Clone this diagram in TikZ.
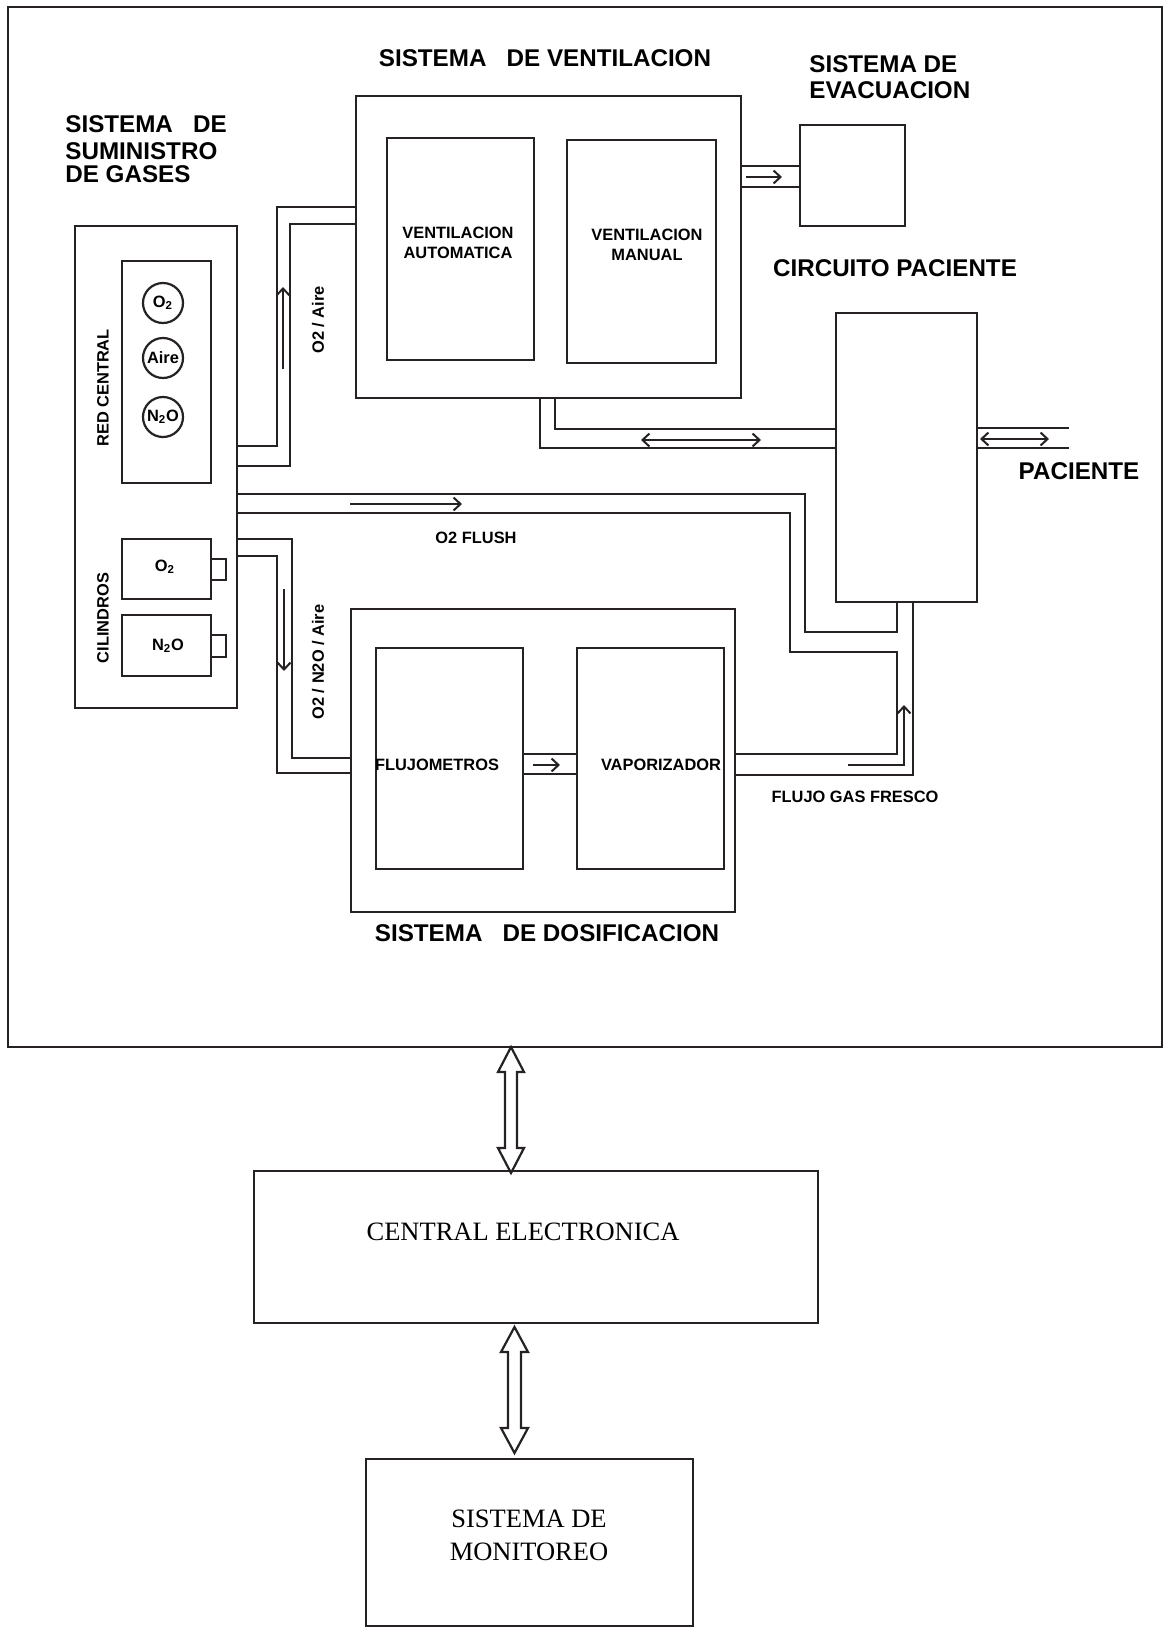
\documentclass[tikz,border=0pt]{standalone}
\usepackage{fontspec}
\setmainfont{Liberation Serif}
\setsansfont{Liberation Sans}
\usetikzlibrary{fit,arrows.meta}
\definecolor{ink}{RGB}{38,34,36}

\begin{document}
\begin{tikzpicture}[x=0.5pt,y=-0.5pt,
  box/.style={draw=ink,line width=1.3pt,inner sep=0pt},
  pipe/.style={draw=ink,line width=1.1pt},
  flow/.style={draw=ink,line width=1pt,-{Straight Barb[length=3.5pt,width=6.5pt]}},
  flowtwo/.style={draw=ink,line width=1pt,{Straight Barb[length=3.5pt,width=6.5pt]}-{Straight Barb[length=3.5pt,width=6.5pt]}},
  gascircle/.style={draw=ink,line width=1.1pt,circle,minimum size=20pt,inner sep=0pt},
  title/.style={font=\sffamily\bfseries\fontsize{12.1}{14}\selectfont,text=black,inner sep=0pt},
  lbl/.style={font=\sffamily\bfseries\fontsize{8.2}{10}\selectfont,text=black,inner sep=0pt,align=center},
  serif/.style={font=\rmfamily\fontsize{13.25}{16.5}\selectfont,text=black,inner sep=0pt,align=center},
  bigarrow/.style={draw=ink,line width=1.1pt,fill=white,line join=miter}
]
\useasboundingbox (0,0) rectangle (1165,1628);
\fill[white] (0,0) rectangle (1165,1628);

% outer frame of the machine
\node[box,line width=1.4pt,fit={(8,7) (1162,1047)}] (frame) {};

% ---- gas supply ----
\node[box,fit={(75,226) (237,708)}] (sup) {};
\node[box,fit={(122,261) (211,483)}] (red) {};
\node[gascircle,lbl] (cO) at (163,303) {O\textsubscript{2}};
\node[gascircle,lbl] (cA) at (163,358) {Aire};
\node[gascircle,lbl] (cN) at (163,417) {N\textsubscript{2}O};
\node[lbl,rotate=90] (redlbl) at (103,388) {RED CENTRAL};

\node[box,fit={(122,539) (211,599)}] (cylO) {};
\node[box,fit={(211,559) (226,580)}] (valO) {};
\node[lbl] (cylOlbl) at (165,567) {O\textsubscript{2}};
\node[box,fit={(122,615) (211,676)}] (cylN) {};
\node[box,fit={(211,635) (226,657)}] (valN) {};
\node[lbl] (cylNlbl) at (168,646) {N\textsubscript{2}O};
\node[lbl,rotate=90] (cillbl) at (103,618) {CILINDROS};

\node[title,anchor=west] (supA) at (65,124) {SISTEMA\ \ \ DE};
\node[title,anchor=west] (supB) at (65,151.5) {SUMINISTRO};
\node[title,anchor=west] (supC) at (65,174.5) {DE GASES};

% ---- ventilation ----
\node[box,fit={(356,96) (741,398)}] (vent) {};
\node[box,fit={(387,138) (534,360)}] (auto) {};
\node[box,fit={(567,140) (716,363)}] (manual) {};
\node[lbl] (autolbl) at (458,243) {VENTILACION\\AUTOMATICA};
\node[lbl] (manlbl) at (647,245) {VENTILACION\\MANUAL};
\node[title] (ventlbl) at (545,58) {SISTEMA\ \ \ DE VENTILACION};

% ---- evacuation ----
\node[box,fit={(800,125) (905,226)}] (evac) {};
\node[title,anchor=west] (evacA) at (809,64) {SISTEMA DE};
\node[title,anchor=west] (evacB) at (809,90) {EVACUACION};
\draw[pipe] (vent.east |- 0,166) -- (evac.west |- 0,166);
\draw[pipe] (vent.east |- 0,187) -- (evac.west |- 0,187);
\draw[flow] (746,177) -- (782,177);

% ---- patient circuit ----
\node[box,fit={(836,313) (977,602)}] (circ) {};
\node[title] (circlbl) at (895,268) {CIRCUITO PACIENTE};
\coordinate (patA) at (1069,428);
\coordinate (patB) at (1069,448);
\draw[pipe] (circ.east |- patA) -- (patA);
\draw[pipe] (circ.east |- patB) -- (patB);
\draw[flowtwo] (980,439) -- (1049,439);
\node[title] (patlbl) at (1079,471) {PACIENTE};

% ventilation <-> circuit
\draw[pipe] (vent.south -| 540,0) -- (540,448) -- (circ.west |- 0,448);
\draw[pipe] (vent.south -| 555,0) -- (555,429) -- (circ.west |- 0,429);
\draw[flowtwo] (641,440) -- (761,440);

% supply -> ventilation
\draw[pipe] (sup.east |- 0,446) -- (277,446) -- (277,207) -- (vent.west |- 0,207);
\draw[pipe] (sup.east |- 0,466) -- (290,466) -- (290,224) -- (vent.west |- 0,224);
\draw[flow] (283,369) -- (283,287);
\node[lbl,rotate=90] (airlbl) at (318,320) {O2 / Aire};

% ---- dosing ----
\node[box,fit={(351,609) (735,912)}] (dos) {};
\node[box,fit={(376,648) (523,869)}] (flujo) {};
\node[box,fit={(577,648) (724,869)}] (vapo) {};
\draw[pipe] (flujo.east |- 0,754) -- (vapo.west |- 0,754);
\draw[pipe] (flujo.east |- 0,774) -- (vapo.west |- 0,774);
\draw[flow] (533,765) -- (560,765);
\node[lbl] (flujolbl) at (437,765) {FLUJOMETROS};
\node[lbl] (vapolbl) at (661,765) {VAPORIZADOR};
\node[title] (doslbl) at (547,933) {SISTEMA\ \ \ DE DOSIFICACION};

% supply -> dosing
\draw[pipe] (sup.east |- 0,539) -- (292,539) -- (292,758) -- (dos.west |- 0,758);
\draw[pipe] (sup.east |- 0,556) -- (277,556) -- (277,773) -- (dos.west |- 0,773);
\draw[flow] (284,589) -- (284,671);
\node[lbl,rotate=90] (mixlbl) at (318,662) {O2 / N2O / Aire};

% O2 flush and fresh gas into the circuit
\draw[pipe] (sup.east |- 0,494) -- (805,494) -- (805,632) -- (897,632) -- (circ.south -| 897,0);
\draw[pipe] (sup.east |- 0,513) -- (790,513) -- (790,652) -- (897,652) -- (897,754) -- (dos.east |- 0,754);
\draw[pipe] (circ.south -| 913,0) -- (913,775) -- (dos.east |- 0,775);
\draw[flow] (350,504) -- (462,504);
\node[lbl] (flushlbl) at (476,538) {O2 FLUSH};
\draw[flow] (848,765) -- (904,765) -- (904,705);
\node[lbl] (freshlbl) at (855,797) {FLUJO GAS FRESCO};

% ---- electronics and monitoring ----
\node[box,fit={(254,1171) (818,1323)}] (cpu) {};
\node[serif] (cpulbl) at (523,1232) {CENTRAL ELECTRONICA};
\node[box,fit={(366,1459) (693,1626)}] (mon) {};
\node[serif] (monlbl) at (529,1535.5) {SISTEMA DE\\MONITOREO};

% hollow double arrows
\draw[bigarrow] (511,1047) -- (524,1072) -- (517,1072) -- (517,1148) -- (524,1148)
  -- (511,1173) -- (498,1148) -- (505,1148) -- (505,1072) -- (498,1072) -- cycle;
\draw[bigarrow] (514.5,1327) -- (528,1352) -- (521,1352) -- (521,1428) -- (528,1428)
  -- (514.5,1453) -- (501,1428) -- (508,1428) -- (508,1352) -- (501,1352) -- cycle;
\end{tikzpicture}
\end{document}
